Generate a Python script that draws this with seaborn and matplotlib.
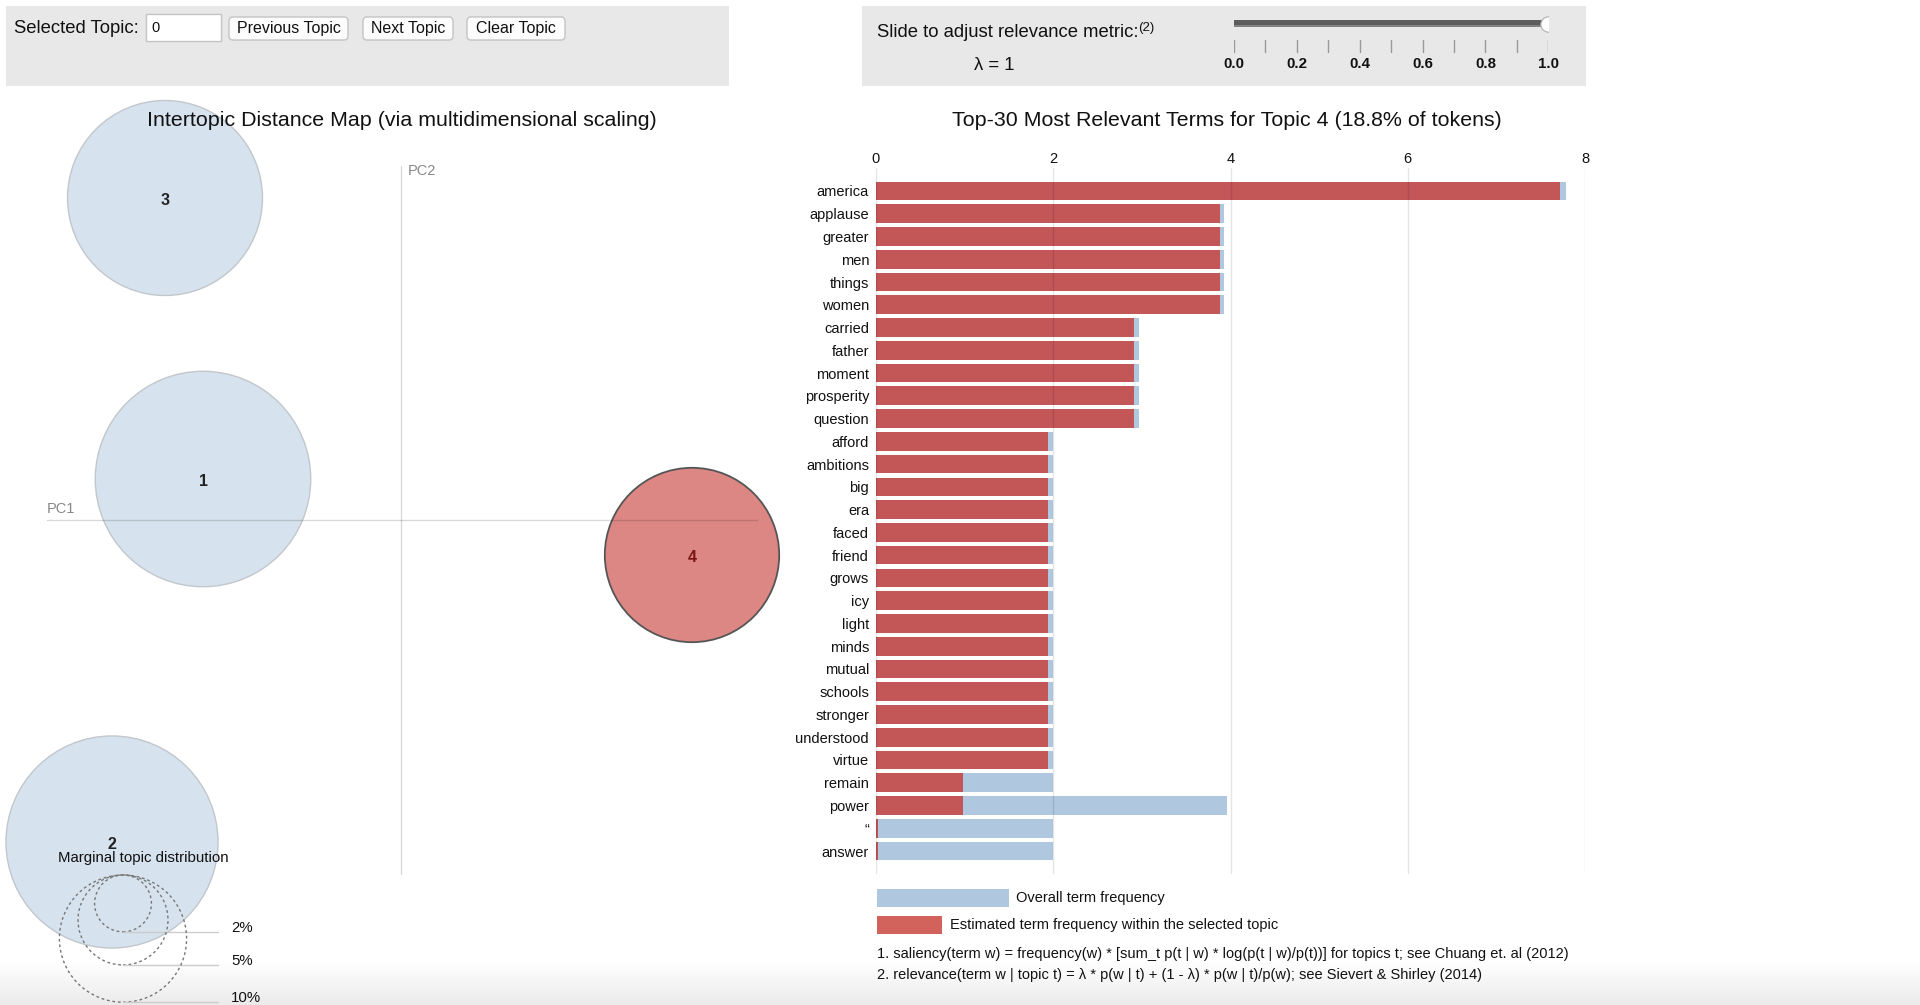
import numpy as np
import pandas as pd
import matplotlib
matplotlib.use("Agg")
import matplotlib.pyplot as plt
import seaborn as sns
from matplotlib.patches import Circle, Rectangle, FancyBboxPatch
from matplotlib.colors import LinearSegmentedColormap

# ---- data ----
topic_ids = [1, 2, 3, 4]
topic_pc1 = [-0.198, -0.289, -0.236, 0.291]
topic_pc2 = [0.041, -0.322, 0.322, -0.035]
topic_share = [28.7, 27.8, 23.5, 18.8]      # % of tokens
selected_topic = 4
legend_shares = [2, 5, 10]

terms = ["america", "applause", "greater", "men", "things", "women",
         "carried", "father", "moment", "prosperity", "question",
         "afford", "ambitions", "big", "era", "faced", "friend", "grows",
         "icy", "light", "minds", "mutual", "schools", "stronger",
         "understood", "virtue", "remain", "power", "\u201c", "answer"]
overall_freq = [7.78, 3.93, 3.93, 3.93, 3.93, 3.93,
                2.97, 2.97, 2.97, 2.97, 2.97,
                2.0, 2.0, 2.0, 2.0, 2.0, 2.0, 2.0, 2.0, 2.0, 2.0, 2.0, 2.0,
                2.0, 2.0, 2.0, 2.0, 3.96, 2.0, 2.0]
topic_freq = [7.72, 3.88, 3.88, 3.88, 3.88, 3.88,
              2.91, 2.91, 2.91, 2.91, 2.91,
              1.94, 1.94, 1.94, 1.94, 1.94, 1.94, 1.94, 1.94, 1.94, 1.94,
              1.94, 1.94, 1.94, 1.94, 1.94, 0.98, 0.98, 0.02, 0.02]
bar_ticks = [0, 2, 4, 6, 8]
lambda_ticks = [round(v, 1) for v in np.arange(0, 1.01, 0.1)]
lambda_value = 1.0

BLUE = "#afc7df"
RED = "#c35656"
RED_LEGEND = "#d2625c"
CIRCLE_BLUE = "#d6e2ed"
CIRCLE_RED = "#dc8784"
PANEL = "#e8e8e8"

sns.set_theme(style="white")
plt.rcParams['font.family'] = ['Liberation Sans', 'DejaVu Sans']

W, H = 1920, 1005
fig = plt.figure(figsize=(W / 100, H / 100), dpi=100)


def px_axes(x0, y0, x1, y1):
    return fig.add_axes([x0 / W, 1 - y1 / H, (x1 - x0) / W, (y1 - y0) / H])


# background layer in pixel coordinates (panels, buttons, legend, notes)
bg = px_axes(0, 0, W, H)
bg.axis("off")
fade = LinearSegmentedColormap.from_list("fade", ["#ffffff", "#ebebeb"])
bg.imshow(np.linspace(0, 1, 60)[:, None], extent=(0, W, H, 962), cmap=fade,
          aspect="auto", zorder=0)
bg.set_xlim(0, W)
bg.set_ylim(H, 0)

bg.add_patch(Rectangle((6, 6), 723, 80, color=PANEL, lw=0))
bg.add_patch(Rectangle((862, 6), 724, 80, color=PANEL, lw=0))

bg.text(14, 28, "Selected Topic:", fontsize=13.3, va="center", color="#111")
bg.add_patch(Rectangle((146, 14), 75, 27, facecolor="white", edgecolor="#c4c4c4", lw=1))
bg.text(151, 28, "0", fontsize=10.5, va="center", color="#111")
for label, x0, x1 in [("Previous Topic", 229, 348), ("Next Topic", 363, 453),
                      ("Clear Topic", 467, 565)]:
    bg.add_patch(FancyBboxPatch((x0, 17), x1 - x0, 23,
                                boxstyle="round,pad=0,rounding_size=4",
                                facecolor="#fcfcfc", edgecolor="#c4c4c4", lw=1))
    bg.text((x0 + x1) / 2, 28.5, label, fontsize=11.5, ha="center", va="center", color="#111")

slide_txt = bg.text(877, 32, "Slide to adjust relevance metric:", fontsize=13.3,
                    va="center", color="#111")
bg.annotate("(2)", xy=(1, 1), xycoords=slide_txt, xytext=(0, 1),
            textcoords="offset points", fontsize=9.5, va="top", color="#111")
bg.text(994, 65, "\u03bb = 1", fontsize=13.3, ha="center", va="center", color="#111")

# slider
sl = px_axes(1234, 0, 1548.3, 90)
sl.axis("off")
sl.set_xlim(0, 1)
sl.set_ylim(90, 0)
sl.plot([-0.03, 1.03], [23.5, 23.5], color="#5c5c5c", lw=5.0, solid_capstyle="round")
sl.plot([-0.03, 1.03], [25.8, 25.8], color="#8a8a8a", lw=1.2, solid_capstyle="round")
for t in lambda_ticks:
    sl.plot([t, t], [40, 52.5], color="#9a9a9a", lw=1)
for t in lambda_ticks[::2]:
    sl.text(t, 63.5, f"{t:.1f}", fontsize=10.8, fontweight="bold", ha="center",
            va="center", color="#111")
sl.plot([lambda_value], [24.5], marker="o", markersize=11, mfc="white",
        mec="#b0b0b0", mew=0.8)

# intertopic distance map, 1 data unit = 1000 px
mp = px_axes(0, 90, 800, H)
mp.axis("off")
mp.set_xlim(-0.401, 0.399)
mp.set_ylim(-0.485, 0.430)
k = 0.02011
mp.text(0.001, 0.400, "Intertopic Distance Map (via multidimensional scaling)",
        fontsize=15.4, ha="center", va="center", color="#111")
for tid, x, y, share in zip(topic_ids, topic_pc1, topic_pc2, topic_share):
    sel = tid == selected_topic
    mp.add_patch(Circle((x, y), k * np.sqrt(share),
                        facecolor=CIRCLE_RED if sel else CIRCLE_BLUE,
                        edgecolor="#555555" if sel else "#c2c7cc",
                        lw=1.3 if sel else 1, zorder=2))
    mp.text(x, y - 0.002, str(tid), fontsize=11.5, fontweight="bold", ha="center",
            va="center", color="#7a1616" if sel else "#222", zorder=4)
mp.plot([-0.354, 0.356], [0, 0], color="#000000", alpha=0.15, lw=1, zorder=3)
mp.plot([0, 0], [0.354, -0.354], color="#000000", alpha=0.15, lw=1, zorder=3)
mp.text(-0.354, 0.004, "PC1", fontsize=10.5, color="#888", va="bottom", ha="left")
mp.text(0.007, 0.349, "PC2", fontsize=10.5, color="#888", va="center", ha="left")

# marginal topic distribution legend
lx, ltop = -0.278, -0.355
mp.text(-0.258, -0.338, "Marginal topic distribution", fontsize=10.8, ha="center",
        va="center", color="#111", zorder=5)
for share in legend_shares:
    r = k * np.sqrt(share)
    mp.add_patch(Circle((lx, ltop - r), r, fill=False, edgecolor="#777",
                        lw=1, ls=(0, (2, 2)), zorder=5))
    mp.plot([lx, lx + 0.095], [ltop - 2 * r, ltop - 2 * r], color="#cccccc", lw=1, zorder=5)
    mp.text(lx + 0.108, ltop - 2 * r + 0.004, f"{share}%", fontsize=10.8,
            ha="left", va="center", color="#111", zorder=5)

# bar chart of relevant terms
bars = pd.DataFrame({"term": terms, "overall": overall_freq, "topic": topic_freq})
bx = px_axes(876, 168, 1585, 874)
bx.set_facecolor("none")
sns.barplot(data=bars, y="term", x="overall", color=BLUE, saturation=1, width=0.82,
            errorbar=None, linewidth=0, ax=bx)
sns.barplot(data=bars, y="term", x="topic", color=RED, saturation=1, width=0.82,
            errorbar=None, linewidth=0, ax=bx)
bx.set_xlim(0, 8)
bx.set_ylim(30.01, -1.01)
bx.set_xticks(bar_ticks)
bx.xaxis.tick_top()
bx.set_xlabel("")
bx.set_ylabel("")
bx.set_axisbelow(False)
bx.grid(axis="x", color="black", alpha=0.1, lw=1)
bx.grid(axis="y", visible=False)
sns.despine(ax=bx, left=True, bottom=True, top=True, right=True)
bx.tick_params(axis="x", length=0, pad=1.5, labelsize=10.5, colors="#111")
bx.tick_params(axis="y", length=0, pad=5, labelsize=10.5, colors="#111")
fig.text(1227 / W, 1 - 120 / H,
         "Top-30 Most Relevant Terms for Topic 4 (18.8% of tokens)",
         fontsize=15.4, ha="center", va="center", color="#111")

# bar legend and notes
bg.add_patch(Rectangle((877, 889), 132, 18, color=BLUE, lw=0))
bg.text(1016, 898, "Overall term frequency", fontsize=10.5, va="center", color="#111")
bg.add_patch(Rectangle((877, 916), 65, 18, color=RED_LEGEND, lw=0))
bg.text(950, 925, "Estimated term frequency within the selected topic", fontsize=10.5,
        va="center", color="#111")
bg.text(877, 954, "1. saliency(term w) = frequency(w) * [sum_t p(t | w) * log(p(t | w)/p(t))] "
        "for topics t; see Chuang et. al (2012)", fontsize=10.5, va="center", color="#111")
bg.text(877, 975, "2. relevance(term w | topic t) = \u03bb * p(w | t) + (1 - \u03bb) * "
        "p(w | t)/p(w); see Sievert & Shirley (2014)", fontsize=10.5, va="center", color="#111")

fig.savefig("out.png", dpi=100)
